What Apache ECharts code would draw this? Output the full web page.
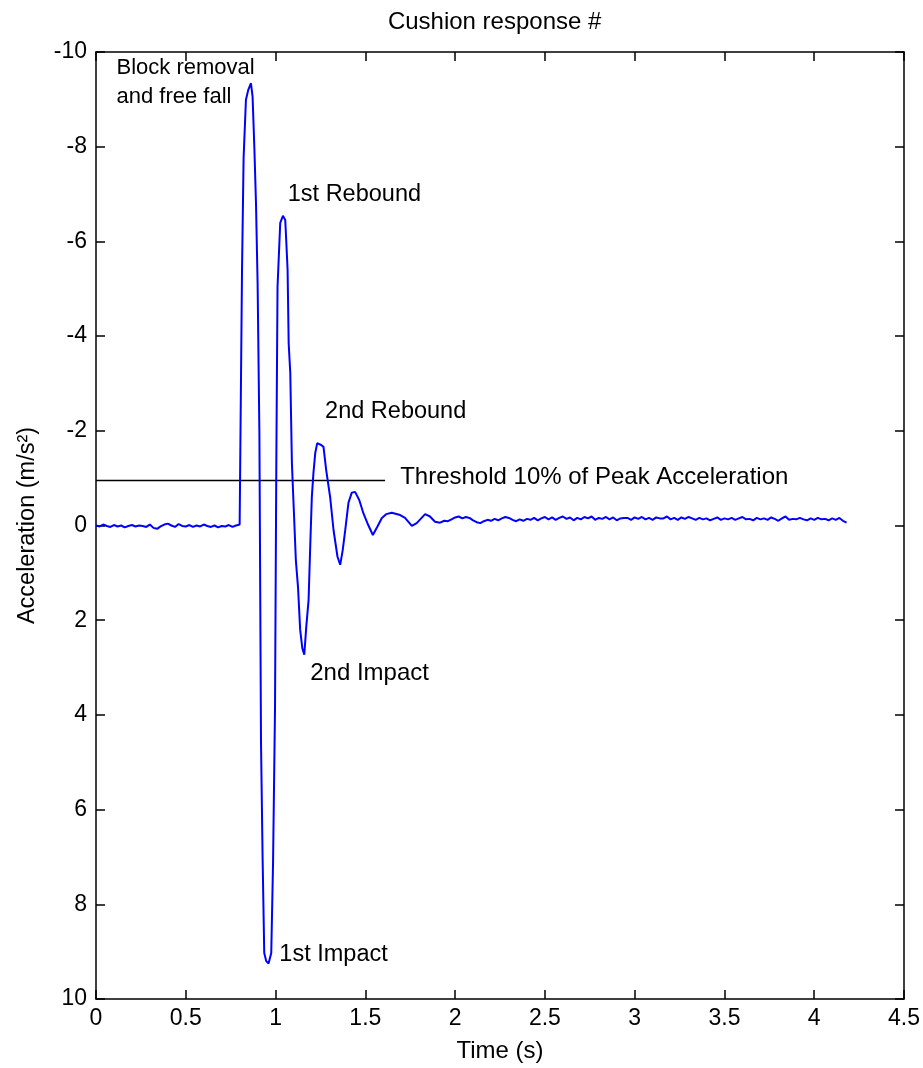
<!DOCTYPE html>
<html>
<head>
<meta charset="utf-8">
<script src="https://cdn.jsdelivr.net/npm/echarts/dist/echarts.min.js"></script>
<style>
html,body{margin:0;padding:0;background:#fff;}
#chart{width:923px;height:1068px;}
</style>
</head>
<body>
<div id="chart"></div>
<script>
// ---------- data ----------
const titleText = 'Cushion response #';
const xTicks = [0, 0.5, 1, 1.5, 2, 2.5, 3, 3.5, 4, 4.5];
const yTicks = [-10, -8, -6, -4, -2, 0, 2, 4, 6, 8, 10];

// pre-event baseline, t = 0 .. 0.80 s, every 0.02 s
const preStart = 0, preStep = 0.02;
const preValues = [0.00, 0.02, -0.02, 0.01, 0.03, -0.01, 0.02, 0.00, 0.04, 0.01,
  -0.01, 0.02, 0.00, 0.01, 0.03, -0.02, 0.05, 0.07, 0.02, -0.02,
  -0.04, 0.00, 0.03, -0.03, 0.01, 0.02, -0.01, 0.03, 0.00, 0.02,
  -0.02, 0.01, 0.03, 0.00, 0.04, 0.01, 0.02, -0.01, 0.03, 0.00, -0.02];

// event (drop, impacts, rebounds): [time s, acceleration m/s^2]
const eventPoints = [
  [0.809, -0.02], [0.813, -5.33], [0.822, -7.76], [0.835, -8.99], [0.848, -9.20],
  [0.863, -9.34], [0.872, -9.06], [0.882, -7.97], [0.891, -6.81], [0.900, -5.12],
  [0.910, -1.95], [0.919, 4.59], [0.928, 7.06], [0.937, 9.03], [0.948, 9.20],
  [0.961, 9.25], [0.976, 9.03], [0.986, 7.13], [0.997, 3.85], [1.004, -1.17],
  [1.011, -5.04], [1.026, -6.39], [1.041, -6.54], [1.054, -6.45], [1.060, -5.97],
  [1.067, -5.40], [1.073, -3.85], [1.082, -3.22], [1.091, -1.32], [1.100, -0.48],
  [1.113, 0.73], [1.125, 1.30], [1.137, 2.20], [1.149, 2.59], [1.160, 2.73],
  [1.171, 2.14], [1.184, 1.57], [1.193, 0.45], [1.202, -0.60], [1.211, -1.11],
  [1.221, -1.53], [1.232, -1.74], [1.243, -1.77], [1.254, -1.70], [1.267, -1.66],
  [1.282, -1.17], [1.304, -0.60], [1.323, 0.10], [1.345, 0.66], [1.360, 0.83],
  [1.374, 0.52], [1.388, 0.10], [1.406, -0.48], [1.424, -0.69], [1.443, -0.71],
  [1.466, -0.54], [1.489, -0.26], [1.516, -0.01], [1.542, 0.20], [1.566, 0.03],
  [1.592, -0.16], [1.616, -0.24], [1.647, -0.27], [1.694, -0.22], [1.721, -0.16],
  [1.759, 0.01], [1.786, -0.05], [1.833, -0.24], [1.860, -0.19], [1.888, -0.08],
  [1.916, -0.06]
];

// settled tail, t = 1.94 .. 4.18 s, every 0.02 s
const tailStart = 1.94, tailStep = 0.02;
const tailValues = [
  -0.10, -0.09, -0.13, -0.17, -0.19, -0.15, -0.18, -0.16, -0.11, -0.07,
  -0.05, -0.09, -0.12, -0.10, -0.14, -0.11, -0.15, -0.18, -0.16, -0.12,
  -0.09, -0.13, -0.10, -0.14, -0.12, -0.16, -0.11,
  -0.15, -0.18, -0.13, -0.17, -0.12, -0.16, -0.19, -0.14, -0.17, -0.11,
  -0.16, -0.13, -0.18, -0.15, -0.19, -0.12, -0.16, -0.14, -0.18, -0.13,
  -0.17, -0.11, -0.15, -0.16, -0.16, -0.12, -0.17,
  -0.14, -0.18, -0.13, -0.16, -0.12, -0.17, -0.15, -0.15, -0.19, -0.13,
  -0.16, -0.12, -0.17, -0.14, -0.18, -0.15, -0.12, -0.16, -0.13, -0.15,
  -0.11, -0.14, -0.17, -0.12, -0.15,
  -0.13, -0.16, -0.12, -0.15, -0.18, -0.13, -0.14, -0.11, -0.16, -0.13,
  -0.15, -0.12, -0.17, -0.14, -0.10, -0.15, -0.19, -0.12, -0.14, -0.13,
  -0.16, -0.13, -0.11, -0.15, -0.12,
  -0.16, -0.13, -0.14, -0.11, -0.15, -0.12, -0.16, -0.10, -0.06
];

// threshold line (10% of peak)
const thresholdLevel = -0.95;
const thresholdSpan = [0, 1.61];

// annotations: [text, time, acceleration] (left edge / vertical middle of text)
const annotations = [
  ['Block removal', 0.114, -9.66],
  ['and free fall', 0.114, -9.05],
  ['1st Rebound', 1.068, -6.99],
  ['2nd Rebound', 1.276, -2.40],
  ['Threshold 10% of Peak Acceleration', 1.694, -1.02],
  ['2nd Impact', 1.193, 3.13],
  ['1st Impact', 1.021, 9.05]
];
const annotationFontSizes = [22, 22, 23.5, 23.5, 24, 24, 23.5];

// ---------- build ----------
const signal = [];
preValues.forEach((v, i) => signal.push([+(preStart + i * preStep).toFixed(3), v]));
eventPoints.forEach(p => signal.push(p));
tailValues.forEach((v, i) => signal.push([+(tailStart + i * tailStep).toFixed(3), v]));

const FONT = 'Liberation Sans, Arial, sans-serif';
const black = '#000';

function xAxisCfg(pos, labels) {
  return {
    type: 'value', position: pos, min: xTicks[0], max: xTicks[xTicks.length - 1],
    interval: xTicks[1] - xTicks[0],
    axisLine: { show: true, onZero: false, lineStyle: { color: black, width: 1.5 } },
    axisTick: { show: true, inside: true, length: 9, lineStyle: { color: black, width: 1.5 } },
    axisLabel: { show: labels, color: black, fontSize: 23, fontFamily: FONT, margin: 8,
                 showMaxLabel: true, showMinLabel: true },
    splitLine: { show: false },
    name: labels ? 'Time (s)' : '', nameLocation: 'middle', nameGap: 40,
    nameTextStyle: { color: black, fontSize: 24, fontFamily: FONT }
  };
}
function yAxisCfg(pos, labels) {
  return {
    type: 'value', position: pos, inverse: true, min: yTicks[0], max: yTicks[yTicks.length - 1],
    interval: yTicks[1] - yTicks[0],
    axisLine: { show: true, onZero: false, lineStyle: { color: black, width: 1.5 } },
    axisTick: { show: true, inside: true, length: 9, lineStyle: { color: black, width: 1.5 } },
    axisLabel: { show: labels, color: black, fontSize: 23, fontFamily: FONT, margin: 9,
                 showMaxLabel: true, showMinLabel: true },
    splitLine: { show: false },
    name: labels ? 'Acceleration (m/s²)' : '', nameLocation: 'middle', nameGap: 56, nameRotate: 90,
    nameTextStyle: { color: black, fontSize: 23.5, fontFamily: FONT }
  };
}

const chart = echarts.init(document.getElementById('chart'), null, { renderer: 'canvas' });
chart.setOption({
  animation: false,
  backgroundColor: '#fff',
  grid: { left: 96, right: 18, top: 52, bottom: 69, containLabel: false },
  xAxis: [xAxisCfg('bottom', true), xAxisCfg('top', false)],
  yAxis: [yAxisCfg('left', true), yAxisCfg('right', false)],
  series: [
    {
      type: 'line', xAxisIndex: 0, yAxisIndex: 0, data: signal,
      showSymbol: false, symbol: 'none', smooth: false,
      lineStyle: { color: '#0000ff', width: 2 }, z: 3
    },
    {
      type: 'line', xAxisIndex: 0, yAxisIndex: 0,
      data: [[thresholdSpan[0], thresholdLevel], [thresholdSpan[1], thresholdLevel]],
      showSymbol: false, symbol: 'none',
      lineStyle: { color: black, width: 1.5 }, z: 2
    }
  ]
});

const graphics = annotations.map((a, i) => {
  const p = chart.convertToPixel({ xAxisIndex: 0, yAxisIndex: 0 }, [a[1], a[2]]);
  return {
    type: 'text', x: p[0], y: p[1],
    style: { text: a[0], fill: black, font: annotationFontSizes[i] + 'px ' + FONT,
             textAlign: 'left', textVerticalAlign: 'middle' }
  };
});
const mid = chart.convertToPixel({ xAxisIndex: 0, yAxisIndex: 0 }, [2.22, yTicks[0]]);
graphics.push({
  type: 'text', x: mid[0], y: 22,
  style: { text: titleText, fill: black, font: '24px ' + FONT, textAlign: 'center', textVerticalAlign: 'middle' }
});
chart.setOption({ graphic: graphics });
</script>
</body>
</html>
